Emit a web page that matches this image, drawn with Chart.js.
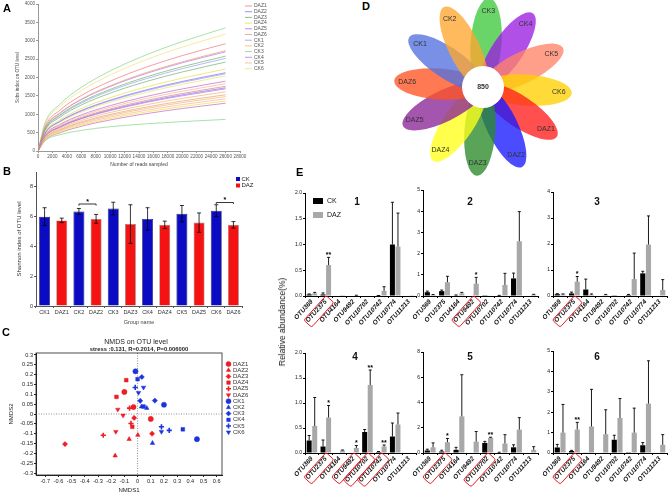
<!DOCTYPE html>
<html lang="en">
<head>
<meta charset="UTF-8">
<title>OTU figure</title>
<script src="https://cdn.jsdelivr.net/npm/chart.js@4"></script>
<style>
  body { margin: 0; background: #fff; }
  #fig { position: relative; width: 668px; height: 496px; overflow: hidden; font-family: "Liberation Sans", Arial, sans-serif; }
  canvas { position: absolute; }
  .tag { position: absolute; font-weight: bold; font-size: 11px; line-height: 1; }
  #ylabE { position: absolute; left: 282px; top: 322px; transform: translate(-50%, -50%) rotate(-90deg); font-size: 8.5px; white-space: nowrap; color: #111; }
</style>
</head>
<body>
<div id="fig">
  <canvas id="cA" width="290" height="172" style="left:0;top:0"></canvas>
  <canvas id="cB" width="290" height="160" style="left:0;top:168px"></canvas>
  <canvas id="cC" width="290" height="170" style="left:0;top:326px"></canvas>
  <canvas id="cD" width="190" height="180" style="left:388px;top:0"></canvas>
  <canvas id="cE1" width="128" height="155" style="left:292px;top:180px"></canvas>
  <canvas id="cE2" width="130" height="155" style="left:410px;top:180px"></canvas>
  <canvas id="cE3" width="128" height="155" style="left:540px;top:180px"></canvas>
  <canvas id="cE4" width="128" height="156" style="left:292px;top:340px"></canvas>
  <canvas id="cE5" width="130" height="156" style="left:410px;top:340px"></canvas>
  <canvas id="cE6" width="128" height="156" style="left:540px;top:340px"></canvas>
  <div class="tag" style="left:3px;top:3px">A</div>
  <div class="tag" style="left:3px;top:166px">B</div>
  <div class="tag" style="left:2px;top:327px">C</div>
  <div class="tag" style="left:362px;top:1px">D</div>
  <div class="tag" style="left:296px;top:167px">E</div>
  <div id="ylabE">Relative abundance(%)</div>
</div>
<script>
// ---- A: rarefaction curves (two replicates per sample) ----
const readsX = [0, 1000, 3000, 6000, 10000, 15000, 20000, 26000];
const readsTicks = [0, 2000, 4000, 6000, 8000, 10000, 12000, 14000, 16000, 18000, 20000, 22000, 24000, 26000, 28000];
const sobsTicks = [0, 500, 1000, 1500, 2000, 2500, 3000, 3500, 4000];
const sampleNames = ['DAZ1', 'DAZ2', 'DAZ3', 'DAZ4', 'DAZ5', 'DAZ6', 'CK1', 'CK2', 'CK3', 'CK4', 'CK5', 'CK6'];
const sampleColors = ['#ee7b7bcc', '#7a7aeecc', '#6cb56ccc', '#eedd44cc', '#c46ac4cc', '#f09a7acc',
                      '#9c9cf2cc', '#f2b76acc', '#86d686cc', '#b47ae6cc', '#f2b89acc', '#f2e27acc'];
const sobsRep1 = [
  [0, 675, 1104, 1510, 1898, 2281, 2596, 2920],
  [0, 492, 805, 1101, 1385, 1664, 1894, 2130],
  [0, 596, 975, 1334, 1677, 2015, 2294, 2580],
  [0, 515, 843, 1153, 1450, 1742, 1982, 2230],
  [0, 439, 718, 982, 1235, 1484, 1689, 1900],
  [0, 631, 1032, 1411, 1775, 2132, 2427, 2730],
  [0, 582, 953, 1303, 1638, 1968, 2240, 2520],
  [0, 372, 609, 832, 1047, 1257, 1431, 1610],
  [0, 774, 1266, 1732, 2178, 2616, 2978, 3350],
  [0, 624, 1021, 1396, 1755, 2109, 2400, 2700],
  [0, 423, 692, 946, 1190, 1429, 1627, 1830],
  [0, 735, 1202, 1644, 2067, 2484, 2827, 3180]
];
const sobsRep2 = [
  [0, 407, 665, 910, 1144, 1375, 1565, 1760],
  [0, 397, 650, 889, 1118, 1343, 1529, 1720],
  [0, 559, 915, 1251, 1573, 1890, 2151, 2420],
  [0, 314, 514, 703, 884, 1062, 1209, 1360],
  [0, 300, 491, 672, 845, 1015, 1156, 1300],
  [0, 353, 578, 791, 995, 1195, 1360, 1530],
  [0, 485, 794, 1086, 1365, 1640, 1867, 2100],
  [0, 342, 559, 765, 962, 1156, 1316, 1480],
  [0, 280, 440, 560, 660, 740, 800, 860],
  [0, 390, 639, 874, 1099, 1320, 1502, 1690],
  [0, 328, 537, 734, 923, 1109, 1262, 1420],
  [0, 471, 771, 1055, 1326, 1593, 1814, 2040]
];

// ---- B: Shannon index ----
const shannonGroups = ['CK1', 'DAZ1', 'CK2', 'DAZ2', 'CK3', 'DAZ3', 'CK4', 'DAZ4', 'CK5', 'DAZ5', 'CK6', 'DAZ6'];
const shannonMean = [6.0, 5.75, 6.35, 5.85, 6.55, 5.5, 5.85, 5.45, 6.2, 5.6, 6.4, 5.45];
const shannonErr = [0.6, 0.15, 0.2, 0.3, 0.42, 1.3, 0.75, 0.25, 0.55, 0.65, 0.4, 0.22];
const shannonTicks = [0, 2, 4, 6, 8];
const shannonSig = [[2, 3, 6.85, '*'], [10, 11, 6.95, '*']]; // from, to, level, mark

// ---- C: NMDS ----
const nmdsLabels = ['DAZ1', 'DAZ2', 'DAZ3', 'DAZ4', 'DAZ5', 'DAZ6', 'CK1', 'CK2', 'CK3', 'CK4', 'CK5', 'CK6'];
const nmdsPts = [
  [[-0.10, 0.112], [-0.031, 0.035], [0.10, -0.025]],
  [[-0.17, -0.212], [-0.064, -0.128], [0.002, -0.107]],
  [[-0.55, -0.153], [-0.026, -0.02], [0.11, -0.10]],
  [[-0.086, 0.172], [-0.16, 0.087], [-0.04, -0.065]],
  [[-0.26, -0.108], [-0.061, 0.03], [-0.05, -0.048]],
  [[-0.15, 0.023], [-0.11, -0.007], [-0.165, -0.09]],
  [[-0.016, 0.217], [0.20, 0.047], [0.45, -0.128]],
  [[0.07, 0.03], [0.113, -0.148], [0.03, 0.037]],
  [[0.032, 0.188], [0.131, 0.068], [0.02, 0.067]],
  [[0.0, 0.177], [0.343, -0.078], [0.045, 0.038]],
  [[-0.018, 0.135], [0.181, -0.065], [0.24, -0.083]],
  [[0.045, 0.135], [0.181, -0.09], [0.007, 0.108]]
];
const nmdsXTicks = [-0.7, -0.6, -0.5, -0.4, -0.3, -0.2, -0.1, 0, 0.1, 0.2, 0.3, 0.4, 0.5, 0.6];
const nmdsYTicks = [0.3, 0.25, 0.2, 0.15, 0.1, 0.05, 0, -0.05, -0.1, -0.15, -0.2, -0.25, -0.3];

// ---- D: flower diagram ----
const petalNames = ['CK3', 'CK4', 'CK5', 'CK6', 'DAZ1', 'DAZ2', 'DAZ3', 'DAZ4', 'DAZ5', 'DAZ6', 'CK1', 'CK2'];
const petalColors = ['#3fc93f', '#9b1fe0', '#ff8468', '#ffd000', '#ff1e1e', '#1a1aff',
                     '#2a8a2a', '#ffff1a', '#8a2596', '#ff5522', '#5272e0', '#ffa630'];
const coreOtus = 850;

// ---- E: OTU abundance ----
const otuNames = ['OTU369', 'OTU2375', 'OTU4164', 'OTU9492', 'OTU10702', 'OTU10742', 'OTU10774', 'OTU11213'];
const ckMean = [
  [0.03, 0.03, 0, 0, 0, 0.005, 1.0, 0],
  [0.18, 0.23, 0.03, 0, 0.01, 0.02, 0.83, 0],
  [0.07, 0.1, 0.25, 0, 0.01, 0.04, 0.87, 0],
  [0.25, 0.13, 0.01, 0, 0.42, 0.02, 0.33, 0],
  [0.2, 0.12, 0.25, 0, 0.8, 0.04, 0.45, 0],
  [0.27, 0.1, 0.02, 0, 0.65, 0.01, 0.38, 0]
];
const ckErr = [
  [0.01, 0.03, 0, 0, 0, 0.005, 0.82, 0],
  [0.05, 0.05, 0.02, 0, 0, 0.01, 0.25, 0],
  [0.02, 0.05, 0.4, 0, 0, 0.02, 0.08, 0],
  [0.1, 0.13, 0, 0, 0.05, 0.01, 0.27, 0],
  [0.1, 0.1, 0.2, 0, 0.12, 0.02, 0.2, 0],
  [0.15, 0.03, 0, 0, 0.22, 0, 0.13, 0]
];
const dazMean = [
  [0.05, 0.6, 0.003, 0.01, 0, 0.1, 0.96, 0.005],
  [0.05, 0.65, 0.12, 0.58, 0.02, 0.52, 2.58, 0.06],
  [0.06, 0.55, 0.05, 0.04, 0.02, 0.65, 1.98, 0.23],
  [0.54, 0.71, 0.05, 0.1, 1.36, 0.13, 0.57, 0],
  [0.45, 0.85, 2.9, 0.9, 1.2, 0.75, 1.85, 0.25],
  [1.0, 1.15, 1.3, 0.92, 1.72, 1.0, 2.42, 0.4]
];
const dazErr = [
  [0.02, 0.15, 0, 0.005, 0, 0.08, 0.65, 0],
  [0.02, 0.28, 0.05, 0.3, 0, 0.55, 1.4, 0.02],
  [0.02, 0.2, 0.03, 0.02, 0, 1.0, 1.1, 0.4],
  [0.57, 0.24, 0.01, 0.05, 0.3, 0.03, 0.23, 0],
  [0.35, 0.3, 3.3, 0.8, 0.05, 0.7, 0.95, 0.25],
  [1.38, 0.35, 1.82, 1.2, 0.95, 1.2, 2.1, 0.5]
];
const dazStars = [
  ['', '**', '', '', '', '', '', ''],
  ['', '', '', '*', '', '', '', ''],
  ['', '*', '', '', '', '', '', ''],
  ['', '*', '', '*', '**', '**', '', ''],
  ['', '*', '', '', '**', '', '', ''],
  ['', '**', '', '', '', '', '', '']
];
const boxedOtus = [[1], [3], [1], [1, 3, 4, 5], [1, 4], [1]];
const eTitles = ['1', '2', '3', '4', '5', '6'];
const eMax = [2, 5, 4, 2, 8, 5];
const eStep = [0.5, 1, 1, 0.5, 2, 1];

Chart.defaults.font.family = '"Liberation Sans", Arial, sans-serif';
Chart.defaults.animation = false;
Chart.defaults.responsive = false;
Chart.defaults.plugins.legend.display = false;
Chart.defaults.plugins.tooltip.enabled = false;

// small legend drawn at fixed canvas coordinates
const miniLegend = {
  id: 'miniLegend',
  afterDraw(chart, args, o) {
    if (!o.items) return;
    const ctx = chart.ctx;
    ctx.save();
    ctx.font = o.font;
    ctx.textBaseline = 'middle';
    ctx.textAlign = 'left';
    o.items.forEach((it, k) => {
      const y = o.y + k * o.step;
      ctx.fillStyle = it.color;
      ctx.strokeStyle = it.color;
      if (o.kind === 'line') {
        ctx.lineWidth = 1;
        ctx.beginPath(); ctx.moveTo(o.x, y); ctx.lineTo(o.x + o.sw, y); ctx.stroke();
      } else if (o.kind === 'box') {
        const bh = o.bh || o.sw;
        ctx.fillRect(o.x, y - bh / 2, o.sw, bh);
      } else {
        ctx.lineWidth = it.style === 'cross' ? 1.6 : 0.5;
        Chart.helpers.drawPoint(ctx, { pointStyle: it.style, rotation: it.rot || 0, radius: o.sw / 2, borderWidth: ctx.lineWidth }, o.x + o.sw / 2, y);
      }
      ctx.fillStyle = o.textColor || '#222';
      ctx.fillText(it.text, o.x + o.sw + o.gap, y);
    });
    ctx.restore();
  }
};

// free text items (titles etc.)
const texts = {
  id: 'texts',
  afterDraw(chart, args, o) {
    const ctx = chart.ctx;
    (o.list || []).forEach(t => {
      ctx.save();
      ctx.font = t.font;
      ctx.fillStyle = t.color || '#000';
      ctx.textAlign = t.align || 'center';
      ctx.textBaseline = 'middle';
      ctx.translate(t.x, t.y);
      if (t.rot) ctx.rotate(t.rot);
      ctx.fillText(t.text, 0, 0);
      ctx.restore();
    });
  }
};

// error bars from dataset.errors, optional stars from dataset.stars
const errorBars = {
  id: 'errorBars',
  afterDatasetsDraw(chart, args, o) {
    const ctx = chart.ctx, y = chart.scales.y;
    chart.data.datasets.forEach((ds, i) => {
      if (!ds.errors) return;
      const meta = chart.getDatasetMeta(i);
      meta.data.forEach((bar, j) => {
        const v = ds.data[j], e = ds.errors[j];
        const top = y.getPixelForValue(v + e);
        ctx.save();
        ctx.strokeStyle = o.color || '#000';
        ctx.lineWidth = o.width || 1;
        if (e > 0) {
          const bot = o.both ? y.getPixelForValue(v - e) : y.getPixelForValue(v);
          ctx.beginPath();
          ctx.moveTo(bar.x, bot); ctx.lineTo(bar.x, top);
          ctx.moveTo(bar.x - o.cap, top); ctx.lineTo(bar.x + o.cap, top);
          if (o.both) { ctx.moveTo(bar.x - o.cap, bot); ctx.lineTo(bar.x + o.cap, bot); }
          ctx.stroke();
        }
        if (ds.stars && ds.stars[j]) {
          ctx.fillStyle = '#000';
          ctx.font = 'bold 7px "Liberation Sans", Arial';
          ctx.textAlign = 'center';
          ctx.textBaseline = 'middle';
          ctx.fillText(ds.stars[j], bar.x, top - 2);
        }
        ctx.restore();
      });
    });
  }
};

// ---------- A ----------
const aDatasets = [];
[sobsRep1, sobsRep2].forEach(rep => rep.forEach((vals, s) => aDatasets.push({
  label: sampleNames[s],
  data: vals.map((v, k) => ({ x: readsX[k], y: v })),
  borderColor: sampleColors[s],
  borderWidth: 0.9,
  pointRadius: 0,
  fill: false,
  cubicInterpolationMode: 'monotone'
})));

new Chart(document.getElementById('cA'), {
  type: 'line',
  data: { datasets: aDatasets },
  options: {
    devicePixelRatio: 1,
    layout: { padding: { left: 15, top: 4, right: 50, bottom: 4 } },
    scales: {
      x: {
        type: 'linear', min: 0, max: 28000,
        afterBuildTicks: s => { s.ticks = readsTicks.map(v => ({ value: v })); },
        afterFit: s => { s.height = 17; s.paddingLeft = 0; s.paddingRight = 0; },
        grid: { drawOnChartArea: false, tickLength: 2, color: '#999' },
        border: { color: '#999' },
        ticks: { font: { size: 4.6 }, color: '#555', padding: 1, maxRotation: 0, autoSkip: false, callback: v => String(v) },
        title: { display: true, text: 'Number of reads sampled', font: { size: 5 }, color: '#444', padding: 0 }
      },
      y: {
        min: 0, max: 4000,
        afterBuildTicks: s => { s.ticks = sobsTicks.map(v => ({ value: v })); },
        afterFit: s => { s.width = 23; s.paddingTop = 0; s.paddingBottom = 0; },
        grid: { drawOnChartArea: false, tickLength: 2, color: '#999' },
        border: { color: '#999' },
        ticks: { font: { size: 4.6 }, color: '#555', padding: 1, callback: v => String(v) },
        title: { display: true, text: 'Sobs index on OTU level', font: { size: 4.6 }, color: '#444', padding: 0 }
      }
    },
    plugins: {
      miniLegend: {
        x: 245, y: 6, step: 5.7, sw: 7, gap: 2, kind: 'line', font: '5px "Liberation Sans", Arial', textColor: '#555',
        items: sampleNames.map((n, i) => ({ text: n, color: sampleColors[i] }))
      }
    }
  },
  plugins: [miniLegend]
});

// ---------- B ----------
const sigBars = {
  id: 'sigBars',
  afterDatasetsDraw(chart) {
    const ctx = chart.ctx, x = chart.scales.x, y = chart.scales.y;
    ctx.save();
    ctx.strokeStyle = '#000'; ctx.fillStyle = '#000'; ctx.lineWidth = 0.8;
    shannonSig.forEach(([a, b, lvl, mark]) => {
      const x1 = x.getPixelForValue(a), x2 = x.getPixelForValue(b), yy = y.getPixelForValue(lvl);
      ctx.beginPath();
      ctx.moveTo(x1, yy + 1.5); ctx.lineTo(x1, yy); ctx.lineTo(x2, yy); ctx.lineTo(x2, yy + 1.5);
      ctx.stroke();
      ctx.font = 'bold 7px "Liberation Sans", Arial';
      ctx.textAlign = 'center'; ctx.textBaseline = 'middle';
      ctx.fillText(mark, (x1 + x2) / 2, yy - 2);
    });
    ctx.restore();
  }
};

new Chart(document.getElementById('cB'), {
  type: 'bar',
  data: {
    labels: shannonGroups,
    datasets: [{
      data: shannonMean,
      errors: shannonErr,
      backgroundColor: shannonGroups.map(g => g.startsWith('CK') ? '#0b0bc4' : '#f51212'),
      borderColor: shannonGroups.map(g => g.startsWith('CK') ? '#1a1a50' : '#8a8a8a'),
      borderWidth: 0.7,
      barPercentage: 0.64,
      categoryPercentage: 1
    }]
  },
  options: {
    devicePixelRatio: 1,
    layout: { padding: { left: 16, top: 4, right: 48, bottom: 2 } },
    scales: {
      x: {
        afterFit: s => { s.height = 20; s.paddingLeft = 0; s.paddingRight = 0; },
        grid: { drawOnChartArea: false, tickLength: 2, color: '#555' },
        border: { color: '#555' },
        ticks: { font: { size: 5.5 }, color: '#333', padding: 1, autoSkip: false, maxRotation: 0 },
        title: { display: true, text: 'Group name', font: { size: 5.5 }, color: '#444', padding: 0 }
      },
      y: {
        min: 0, max: 9,
        afterBuildTicks: s => { s.ticks = shannonTicks.map(v => ({ value: v })); },
        afterFit: s => { s.width = 20; s.paddingTop = 0; s.paddingBottom = 0; },
        grid: { drawOnChartArea: false, tickLength: 2, color: '#555' },
        border: { color: '#555' },
        ticks: { font: { size: 5.5 }, color: '#333', padding: 1 },
        title: { display: true, text: 'Shannon index of OTU level', font: { size: 6 }, color: '#333', padding: 0 }
      }
    },
    plugins: {
      errorBars: { both: true, cap: 2, width: 0.8 },
      miniLegend: {
        x: 236, y: 11, step: 6.5, sw: 4, gap: 1.5, kind: 'box', font: '6px "Liberation Sans", Arial', textColor: '#222',
        items: [{ text: 'CK', color: '#0b0bc4' }, { text: 'DAZ', color: '#f51212' }]
      }
    }
  },
  plugins: [errorBars, sigBars, miniLegend]
});

// ---------- C ----------
const nmdsStyles = ['circle', 'triangle', 'rectRot', 'rect', 'cross', 'triangle'];
const nmdsRot = [0, 0, 0, 0, 0, 180];
const nmdsColor = l => l.startsWith('CK') ? '#1c34e0' : '#ee1c24';

const nmdsFrame = {
  id: 'nmdsFrame',
  beforeDatasetsDraw(chart) {
    const ctx = chart.ctx, a = chart.chartArea, x = chart.scales.x, y = chart.scales.y;
    ctx.save();
    ctx.strokeStyle = '#777'; ctx.lineWidth = 0.8; ctx.setLineDash([1, 1.5]);
    ctx.beginPath();
    ctx.moveTo(x.getPixelForValue(0), a.top); ctx.lineTo(x.getPixelForValue(0), a.bottom);
    ctx.moveTo(a.left, y.getPixelForValue(0)); ctx.lineTo(a.right, y.getPixelForValue(0));
    ctx.stroke();
    ctx.setLineDash([]);
    ctx.strokeStyle = '#222'; ctx.lineWidth = 0.8;
    ctx.strokeRect(a.left, a.top, a.right - a.left, a.bottom - a.top);
    ctx.restore();
  }
};

new Chart(document.getElementById('cC'), {
  type: 'scatter',
  data: {
    datasets: nmdsLabels.map((l, i) => ({
      label: l,
      data: nmdsPts[i].map(p => ({ x: p[0], y: p[1] })),
      pointStyle: nmdsStyles[i % 6],
      pointRotation: nmdsRot[i % 6],
      pointRadius: 2.6,
      pointBackgroundColor: nmdsColor(l),
      pointBorderColor: nmdsColor(l),
      pointBorderWidth: nmdsStyles[i % 6] === 'cross' ? 1.6 : 0.5
    }))
  },
  options: {
    devicePixelRatio: 1,
    layout: { padding: { left: 8, top: 27, right: 68, bottom: 2 } },
    scales: {
      x: {
        type: 'linear', min: -0.77, max: 0.64,
        afterBuildTicks: s => { s.ticks = nmdsXTicks.map(v => ({ value: v })); },
        afterFit: s => { s.height = 19; s.paddingLeft = 0; s.paddingRight = 0; },
        grid: { drawOnChartArea: false, tickLength: 2, color: '#222' },
        border: { color: '#222' },
        ticks: { font: { size: 5.6 }, color: '#222', padding: 1, autoSkip: false, maxRotation: 0, callback: v => String(v) },
        title: { display: true, text: 'NMDS1', font: { size: 6 }, color: '#222', padding: 0 }
      },
      y: {
        min: -0.31, max: 0.31,
        afterBuildTicks: s => { s.ticks = nmdsYTicks.map(v => ({ value: v })); },
        afterFit: s => { s.width = 28; s.paddingTop = 0; s.paddingBottom = 0; },
        grid: { drawOnChartArea: false, tickLength: 2, color: '#222' },
        border: { color: '#222' },
        ticks: { font: { size: 5.6 }, color: '#222', padding: 1, autoSkip: false, callback: v => String(v) },
        title: { display: true, text: 'NMDS2', font: { size: 6 }, color: '#222', padding: 0 }
      }
    },
    plugins: {
      texts: {
        list: [
          { text: 'NMDS on OTU level', x: 136, y: 16.5, font: '7px "Liberation Sans", Arial', color: '#222' },
          { text: 'stress :0.131, R=0.2014, P=0.006000', x: 139, y: 23.5, font: 'bold 5.8px "Liberation Sans", Arial', color: '#222' }
        ]
      },
      miniLegend: {
        x: 226, y: 38, step: 6.2, sw: 5, gap: 2, kind: 'point', font: '6px "Liberation Sans", Arial', textColor: '#333',
        items: nmdsLabels.map((l, i) => ({ text: l, color: nmdsColor(l), style: nmdsStyles[i % 6], rot: nmdsRot[i % 6] }))
      }
    }
  },
  plugins: [nmdsFrame, texts, miniLegend]
});

// ---------- D ----------
const flower = {
  id: 'flower',
  afterDraw(chart) {
    const ctx = chart.ctx, xs = chart.scales.x, ys = chart.scales.y;
    const kx = Math.abs(xs.getPixelForValue(1) - xs.getPixelForValue(0));
    const cx0 = xs.getPixelForValue(0), cy0 = ys.getPixelForValue(0);
    ctx.save();
    petalNames.forEach((n, i) => {
      const ang = (-86 + 30 * i) * Math.PI / 180;
      const px = xs.getPixelForValue(44 * Math.cos(ang));
      const py = ys.getPixelForValue(-44 * Math.sin(ang));
      ctx.globalAlpha = 0.78;
      ctx.fillStyle = petalColors[i];
      ctx.beginPath();
      ctx.ellipse(px, py, 45 * kx, 15.5 * kx, ang, 0, Math.PI * 2);
      ctx.fill();
    });
    ctx.globalAlpha = 1;
    ctx.fillStyle = '#fff';
    ctx.beginPath(); ctx.arc(cx0, cy0, 21 * kx, 0, Math.PI * 2); ctx.fill();
    ctx.fillStyle = '#333';
    ctx.textAlign = 'center'; ctx.textBaseline = 'middle';
    ctx.font = 'bold 7px "Liberation Sans", Arial';
    ctx.fillText(String(coreOtus), cx0, cy0);
    ctx.font = '7px "Liberation Sans", Arial';
    petalNames.forEach((n, i) => {
      const ang = (-86 + 30 * i) * Math.PI / 180;
      ctx.fillText(n, xs.getPixelForValue(76 * Math.cos(ang)), ys.getPixelForValue(-76 * Math.sin(ang)));
    });
    ctx.restore();
  }
};

new Chart(document.getElementById('cD'), {
  type: 'scatter',
  data: { datasets: [{ data: [{ x: 0, y: 0 }], pointRadius: 0 }] },
  options: {
    devicePixelRatio: 1,
    layout: { padding: 0 },
    scales: {
      x: { display: false, min: -95, max: 95 },
      y: { display: false, min: -93, max: 87 }
    }
  },
  plugins: [flower]
});

// ---------- E ----------
const otuBoxes = {
  id: 'otuBoxes',
  afterDraw(chart, args, o) {
    const ctx = chart.ctx, xs = chart.scales.x;
    const rot = xs.labelRotation * Math.PI / 180;
    ctx.save();
    ctx.font = 'italic bold 6.5px "Liberation Sans", Arial';
    ctx.strokeStyle = '#e8141c'; ctx.lineWidth = 0.9;
    (o.idx || []).forEach(i => {
      const w = ctx.measureText(otuNames[i]).width;
      ctx.save();
      ctx.translate(xs.getPixelForTick(i), xs.top + 2);
      ctx.rotate(-rot);
      ctx.beginPath();
      ctx.roundRect(-w - 3, -1.5, w + 5, 10.5, 2);
      ctx.stroke();
      ctx.restore();
    });
    ctx.restore();
  }
};

const eLayout = [
  { id: 'cE1', padTop: 13, padRight: 4, xh: 39, tx: 65, ty: 22 },
  { id: 'cE2', padTop: 10, padRight: 2, xh: 39, tx: 60, ty: 22 },
  { id: 'cE3', padTop: 12, padRight: 1, xh: 39, tx: 57, ty: 22 },
  { id: 'cE4', padTop: 13, padRight: 4, xh: 43, tx: 63, ty: 17 },
  { id: 'cE5', padTop: 12, padRight: 2, xh: 43, tx: 60, ty: 17 },
  { id: 'cE6', padTop: 11, padRight: 1, xh: 43, tx: 57, ty: 17 }
];

eLayout.forEach((L, k) => {
  new Chart(document.getElementById(L.id), {
    type: 'bar',
    data: {
      labels: otuNames,
      datasets: [
        { label: 'CK', data: ckMean[k], errors: ckErr[k], backgroundColor: '#000', barPercentage: 0.9, categoryPercentage: 0.8 },
        { label: 'DAZ', data: dazMean[k], errors: dazErr[k], stars: dazStars[k], backgroundColor: '#a8a8a8', barPercentage: 0.9, categoryPercentage: 0.8 }
      ]
    },
    options: {
      devicePixelRatio: 1,
      layout: { padding: { left: 0, top: L.padTop, right: L.padRight, bottom: 0 } },
      scales: {
        x: {
          afterFit: s => { s.height = L.xh; s.paddingLeft = 0; s.paddingRight = 0; },
          grid: { drawOnChartArea: false, tickLength: 2, color: '#000' },
          border: { color: '#000', width: 1 },
          ticks: { autoSkip: false, minRotation: 48, maxRotation: 48, padding: 0, font: { size: 6.5, weight: 'bold', style: 'italic' }, color: '#111' }
        },
        y: {
          min: 0, max: eMax[k],
          afterFit: s => { s.width = 13; s.paddingTop = 0; s.paddingBottom = 0; },
          grid: { drawOnChartArea: false, tickLength: 2, color: '#000' },
          border: { color: '#000', width: 1 },
          ticks: { stepSize: eStep[k], font: { size: 5 }, color: '#111', padding: 1, callback: v => eStep[k] < 1 ? v.toFixed(1) : String(v) }
        }
      },
      plugins: {
        errorBars: { both: false, cap: 1.5, width: 0.9 },
        otuBoxes: { idx: boxedOtus[k] },
        texts: { list: [{ text: eTitles[k], x: L.tx, y: L.ty, font: 'bold 10px "Liberation Sans", Arial', color: '#111' }] },
        miniLegend: k === 0 ? {
          x: 21, y: 21, step: 14, sw: 10, bh: 6, gap: 4, kind: 'box', font: '7px "Liberation Sans", Arial', textColor: '#111',
          items: [{ text: 'CK', color: '#000' }, { text: 'DAZ', color: '#a8a8a8' }]
        } : {}
      }
    },
    plugins: [errorBars, otuBoxes, texts, miniLegend]
  });
});
</script>
</body>
</html>
